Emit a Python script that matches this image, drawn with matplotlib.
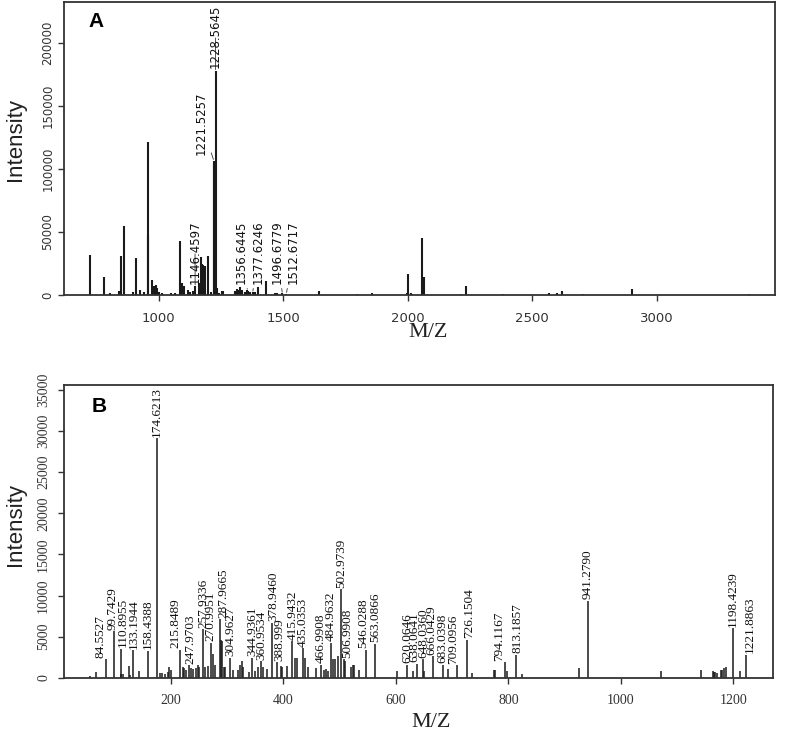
import matplotlib
matplotlib.use("Agg")
import matplotlib.pyplot as plt

# ---- panel A data (full MS spectrum) ----
a_mz = [725, 782, 805, 839, 847, 860, 896, 910, 926, 940, 957, 959, 972, 980,
        991, 995, 1000, 1014, 1051, 1065, 1087, 1094, 1103, 1118, 1127, 1137,
        1146.4597, 1163, 1169, 1173, 1178, 1188, 1198, 1209, 1221.5257, 1223,
        1228.5645, 1233, 1243, 1254, 1258, 1306, 1313, 1322, 1327, 1333, 1346,
        1353, 1356.6445, 1367, 1377.6246, 1385, 1400, 1431, 1468, 1477,
        1496.6779, 1512.6717, 1642, 1795, 1856, 1995, 2001, 2013, 2058, 2063,
        2066, 2212, 2232, 2384, 2565, 2600, 2618, 2704, 2902, 3368]
a_int = [32000, 14300, 1600, 2900, 30700, 55000, 2100, 29400, 4200, 2100,
         121700, 47600, 12200, 6900, 8200, 5500, 2100, 1800, 1600, 1600, 43100,
         9500, 7400, 4200, 2000, 2900, 6900, 9500, 29900, 25000, 24100, 23300,
         30700, 2000, 106600, 105000, 177800, 5500, 1800, 2900, 3200, 2900, 4800,
         4000, 6400, 4200, 2500, 4200, 3500, 2500, 2000, 2000, 6400, 10800, 1600,
         1800, 1200, 900, 3400, 800, 1300, 1300, 16700, 1300, 45000, 14000, 14000,
         800, 7100, 800, 1850, 1300, 3400, 500, 5000, 500]
a_labels = ["1146.4597", "1221.5257", "1228.5645", "1356.6445", "1377.6246",
            "1496.6779", "1512.6717"]

# ---- panel B data (MS/MS spectrum) ----
b_mz = [57, 67, 84.5527, 99.7429, 110.8955, 112, 114, 126, 128, 133.1944, 144,
        158.4388, 174.6213, 180, 184, 189, 194, 197, 200, 215.8489, 221, 224,
        227, 233, 236, 239, 244, 247.9703, 250, 257.9336, 261, 266, 270.9951,
        274, 278, 287.9665, 289, 291, 294, 297, 304.9627, 310, 320, 323, 326,
        329, 338, 344.9361, 350, 355.5, 360.9534, 363, 370, 378.946, 388.999,
        395.7, 398, 405.8, 415.9432, 420, 424, 435.0353, 438, 443, 457.8,
        466.9908, 472, 476, 479, 484.9632, 488.5, 491, 496.3, 502.9739,
        506.9908, 509, 519.3, 523, 526, 534, 546.0288, 563.0866, 602,
        620.0646, 630, 638.0641, 648.036, 650, 666.0429, 683.0398, 692.5,
        709.0956, 726.1504, 735.6, 775, 777, 794.1167, 798, 813.1857, 824.5,
        925, 941.279, 1071, 1142, 1163, 1165, 1167, 1170, 1178, 1180, 1183,
        1186, 1198.4239, 1211, 1221.8863]
b_int = [250, 700, 2250, 5700, 3560, 500, 450, 1400, 300, 3360, 800, 3280,
         29140, 530, 530, 450, 700, 1300, 900, 3400, 1300, 1150, 950, 1500,
         1150, 1100, 1250, 1540, 1350, 5900, 1350, 1400, 4250, 2950, 1500, 7100,
         4650, 4450, 1300, 1300, 2430, 900, 1000, 1600, 2000, 1300, 700, 2430,
         800, 1300, 2000, 1300, 1100, 6700, 1900, 1400, 1300, 1400, 4450, 2430,
         2430, 3640, 2430, 1340, 1200, 1600, 1000, 1100, 800, 4250, 2230, 2230,
         2700, 10800, 2230, 2000, 1340, 1600, 1500, 1000, 3440, 4130, 800, 1600,
         800, 1740, 2230, 800, 2630, 1600, 1100, 1500, 4650, 600, 1000, 900,
         1900, 800, 2830, 500, 1200, 9400, 800, 1000, 800, 700, 750, 600, 1000,
         900, 1200, 1300, 6070, 800, 2830]
b_labels = ["84.5527", "99.7429", "110.8955", "133.1944", "158.4388",
            "174.6213", "215.8489", "247.9703", "257.9336", "270.9951",
            "287.9665", "304.9627", "344.9361", "360.9534", "378.9460",
            "388.999", "415.9432", "435.0353", "466.9908", "484.9632",
            "502.9739", "506.9908", "546.0288", "563.0866", "620.0646",
            "638.0641", "648.0360", "666.0429", "683.0398", "709.0956",
            "726.1504", "794.1167", "813.1857", "941.2790", "1198.4239",
            "1221.8863"]

# where the panel A labels sit (text x, text bottom); leader lines go to the peak
a_text_pos = {"1146.4597": (1146, 8500), "1221.5257": (1172, 111000),
              "1228.5645": (1228.6, 180000), "1356.6445": (1331, 8500),
              "1377.6246": (1398, 8500), "1496.6779": (1474, 8500),
              "1512.6717": (1541, 8500)}
# small sideways nudges (points) of panel B labels, as in the original
b_nudge = {"84.5527": -3.6, "99.7429": -1, "110.8955": 1.2, "215.8489": -3,
           "247.9703": -5, "287.9665": 2.2, "378.9460": 1.4, "388.999": 1.4,
           "506.9908": 3, "546.0288": -1.4, "638.0641": -2.2, "666.0429": -1.4,
           "709.0956": -3, "726.1504": 1.4, "794.1167": -4.3, "813.1857": 1.4,
           "1221.8863": 3}

SPINE = "#333333"
BAR = "#1a1a1a"


def style_box(ax):
    for sp in ax.spines.values():
        sp.set_color(SPINE)
        sp.set_linewidth(1.3)
    ax.tick_params(colors=SPINE, length=4, width=1.0)


def nearest(xs, v):
    return min(range(len(xs)), key=lambda k: abs(xs[k] - v))


fig = plt.figure(figsize=(8, 7.32), dpi=100)

# ---------------- panel A ----------------
axA = fig.add_axes([0.08, 0.597, 0.889, 0.400])
axA.vlines(a_mz, 0, a_int, color=BAR, lw=1.5)
axA.set_xlim(620, 3475)
axA.set_ylim(0, 232500)
axA.set_xticks([1000, 1500, 2000, 2500, 3000])
axA.set_yticks([0, 50000, 100000, 150000, 200000])
style_box(axA)
for t in axA.get_xticklabels():
    t.set_fontfamily("DejaVu Sans")
    t.set_fontsize(9.5)
for t in axA.get_yticklabels():
    t.set_fontfamily("DejaVu Sans")
    t.set_fontsize(8.5)
    t.set_rotation(90)
    t.set_va("center")
axA.tick_params(axis="y", pad=3)
axA.tick_params(axis="x", pad=8)

for lab in a_labels:
    i = nearest(a_mz, float(lab))
    tx, ty = a_text_pos[lab]
    axA.annotate(lab, xy=(a_mz[i], a_int[i]), xytext=(tx, ty),
                 rotation=90, ha="center", va="bottom", fontsize=8.5,
                 family="DejaVu Sans", color="#111111",
                 arrowprops=dict(arrowstyle="-", lw=0.6, color="#333333",
                                 shrinkA=1, shrinkB=1))
axA.text(0.035, 0.965, "A", transform=axA.transAxes, ha="left", va="top",
         fontsize=15, fontweight="bold", family="Liberation Sans")

# ---------------- panel B ----------------
axB = fig.add_axes([0.08, 0.074, 0.886, 0.400])
axB.vlines(b_mz, 0, b_int, color=BAR, lw=1.1)
axB.set_xlim(10, 1270)
axB.set_ylim(0, 35600)
axB.set_xticks([200, 400, 600, 800, 1000, 1200])
axB.set_yticks(list(range(0, 35001, 5000)))
style_box(axB)
for t in axB.get_xticklabels():
    t.set_fontfamily("Liberation Serif")
    t.set_fontsize(10)
for t in axB.get_yticklabels():
    t.set_fontfamily("Liberation Serif")
    t.set_fontsize(10)
    t.set_rotation(90)
    t.set_va("center")
axB.tick_params(axis="y", pad=6)
axB.tick_params(axis="x", pad=8)

for lab in b_labels:
    i = nearest(b_mz, float(lab))
    axB.annotate(lab, xy=(b_mz[i], b_int[i]), xytext=(b_nudge.get(lab, 0), 1),
                 textcoords="offset points", rotation=90, ha="center",
                 va="bottom", fontsize=9.5, family="Liberation Serif",
                 color="#111111")
axB.text(0.039, 0.959, "B", transform=axB.transAxes, ha="left", va="top",
         fontsize=15, fontweight="bold", family="Liberation Sans")

# ---------------- axis titles ----------------
fig.text(0.020, 0.809, "Intensity", rotation=90, ha="center", va="center",
         fontsize=16, family="Liberation Sans", color="#222222")
fig.text(0.020, 0.283, "Intensity", rotation=90, ha="center", va="center",
         fontsize=16, family="Liberation Sans", color="#222222")
fig.text(0.535, 0.546, "M/Z", ha="center", va="center", fontsize=16,
         family="Liberation Serif", color="#222222")
fig.text(0.539, 0.013, "M/Z", ha="center", va="center", fontsize=16,
         family="Liberation Serif", color="#222222")

fig.savefig("out.png", dpi=100)
